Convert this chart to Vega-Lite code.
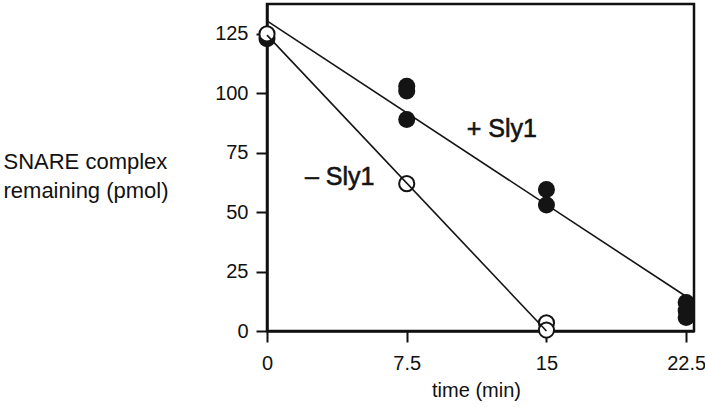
{
  "$schema": "https://vega.github.io/schema/vega-lite/v6.json",
  "width": 427,
  "height": 327,
  "autosize": {"type": "none"},
  "padding": {"left": 267, "top": 4, "right": 11, "bottom": 76},
  "background": "white",
  "config": {
    "font": "Liberation Sans",
    "view": {"stroke": "#111", "strokeWidth": 2.5},
    "axis": {"grid": false}
  },
  "datasets": {
    "points": [
      {"time": 0, "pmol": 123, "condition": "+ Sly1"},
      {"time": 7.5, "pmol": 103, "condition": "+ Sly1"},
      {"time": 7.5, "pmol": 101, "condition": "+ Sly1"},
      {"time": 7.5, "pmol": 89, "condition": "+ Sly1"},
      {"time": 15, "pmol": 59.5, "condition": "+ Sly1"},
      {"time": 15, "pmol": 53, "condition": "+ Sly1"},
      {"time": 22.5, "pmol": 12, "condition": "+ Sly1"},
      {"time": 22.5, "pmol": 8.5, "condition": "+ Sly1"},
      {"time": 22.5, "pmol": 5.7, "condition": "+ Sly1"},
      {"time": 0, "pmol": 125, "condition": "– Sly1"},
      {"time": 7.5, "pmol": 62, "condition": "– Sly1"},
      {"time": 15, "pmol": 3.4, "condition": "– Sly1"},
      {"time": 15, "pmol": 0.4, "condition": "– Sly1"}
    ],
    "lines": [
      {"time": 0, "pmol": 130.5, "condition": "+ Sly1"},
      {"time": 22.5, "pmol": 14.5, "condition": "+ Sly1"},
      {"time": 0, "pmol": 124.5, "condition": "– Sly1"},
      {"time": 15, "pmol": 0, "condition": "– Sly1"}
    ],
    "labels": [
      {"time": 10.72, "pmol": 81.8, "label": "+ Sly1"},
      {"time": 2.04, "pmol": 61.4, "label": "– Sly1"}
    ]
  },
  "layer": [
    {
      "data": {"name": "points"},
      "transform": [{"filter": "datum.condition === '+ Sly1'"}],
      "mark": {"type": "point", "shape": "circle", "filled": true, "color": "#141414", "size": 290, "opacity": 1},
      "encoding": {
        "x": {
          "field": "time", "type": "quantitative",
          "scale": {"domain": [0, 22.92], "nice": false, "zero": true},
          "axis": {
            "values": [0, 7.5, 15, 22.5], "labelExpr": "'' + datum.value",
            "title": "time (min)",
            "domainColor": "#111", "domainWidth": 2.5,
            "tickColor": "#111", "tickWidth": 2, "tickSize": 11,
            "labelFont": "Liberation Sans", "labelFontSize": 20, "labelColor": "#111",
            "labelBaseline": "alphabetic", "labelPadding": 27,
            "labelFlush": false, "labelOverlap": false,
            "titleFont": "Liberation Sans", "titleFontSize": 20, "titleFontWeight": "normal", "titleColor": "#111",
            "titleBaseline": "alphabetic", "titleX": 209, "titleY": 65
          }
        },
        "y": {
          "field": "pmol", "type": "quantitative",
          "scale": {"domain": [0, 137.6], "nice": false, "zero": true},
          "axis": {
            "values": [0, 25, 50, 75, 100, 125], "format": "d",
            "title": ["SNARE complex", "remaining (pmol)"],
            "domainColor": "#111", "domainWidth": 2.5,
            "tickColor": "#111", "tickWidth": 2, "tickSize": 11,
            "labelFont": "Liberation Sans", "labelFontSize": 20, "labelColor": "#111",
            "labelPadding": 8, "labelFlush": false, "labelOverlap": false,
            "titleFont": "Liberation Sans", "titleFontSize": 22, "titleFontWeight": "normal", "titleColor": "#111",
            "titleAngle": 0, "titleAlign": "left", "titleBaseline": "alphabetic",
            "titleX": -264, "titleY": 164, "titleLineHeight": 29
          }
        }
      }
    },
    {
      "data": {"name": "points"},
      "transform": [{"filter": "datum.condition === '– Sly1'"}],
      "mark": {"type": "point", "shape": "circle", "filled": false, "fill": "white", "fillOpacity": 1, "stroke": "#141414", "strokeWidth": 2, "size": 230, "opacity": 1},
      "encoding": {
        "x": {"field": "time", "type": "quantitative"},
        "y": {"field": "pmol", "type": "quantitative"}
      }
    },
    {
      "data": {"name": "lines"},
      "mark": {"type": "line", "color": "#141414", "strokeWidth": 1.6},
      "encoding": {
        "x": {"field": "time", "type": "quantitative"},
        "y": {"field": "pmol", "type": "quantitative"},
        "detail": {"field": "condition"}
      }
    },
    {
      "data": {"name": "labels"},
      "mark": {"type": "text", "align": "left", "baseline": "alphabetic", "font": "Liberation Sans", "fontSize": 25, "color": "#141414", "stroke": "#141414", "strokeWidth": 0.6},
      "encoding": {
        "x": {"field": "time", "type": "quantitative"},
        "y": {"field": "pmol", "type": "quantitative"},
        "text": {"field": "label"}
      }
    }
  ]
}
